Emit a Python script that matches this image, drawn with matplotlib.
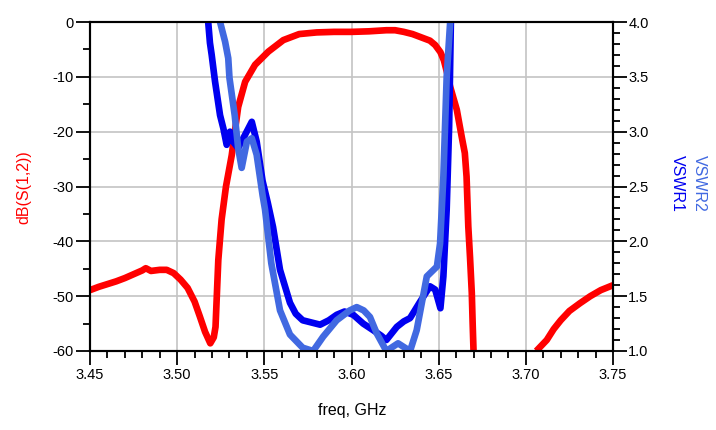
import numpy as np
import matplotlib
matplotlib.use("Agg")
import matplotlib.pyplot as plt
from matplotlib.ticker import MultipleLocator

plt.rcParams['font.family'] = ['Liberation Sans', 'DejaVu Sans']

# dB(S(1,2))
f_s12 = [3.450, 3.455, 3.460, 3.465, 3.470, 3.475, 3.480, 3.482, 3.485, 3.490,
         3.494, 3.498, 3.502, 3.506, 3.510, 3.513, 3.516, 3.519, 3.521, 3.522,
         3.5236, 3.5255, 3.528, 3.5313, 3.5335, 3.535, 3.539, 3.5447, 3.5523, 3.5609,
         3.570, 3.580, 3.590, 3.600, 3.610, 3.620, 3.625, 3.630, 3.635, 3.640,
         3.645, 3.648, 3.651, 3.653, 3.655, 3.6566, 3.6604, 3.6632, 3.665, 3.666,
         3.667, 3.668, 3.669, 3.6695, 3.670, 3.690,
         3.706, 3.709, 3.712, 3.716, 3.720, 3.725, 3.731, 3.737, 3.743, 3.750]
s12_db = [-48.9, -48.3, -47.8, -47.3, -46.7, -46.0, -45.3, -44.9, -45.4, -45.2,
          -45.2, -45.8, -47.0, -48.5, -51.0, -53.7, -56.5, -58.6, -57.5, -55.6,
          -43.4, -36.0, -30.0, -24.3, -19.0, -15.5, -10.9, -7.8, -5.4, -3.3,
          -2.2, -1.9, -1.8, -1.8, -1.7, -1.5, -1.5, -1.8, -2.2, -2.8,
          -3.4, -4.2, -5.5, -7.0, -9.5, -11.8, -16.0, -20.9, -23.9, -28.2,
          -37.3, -43.0, -49.4, -55.0, -60.0, np.nan,
          -60.0, -59.0, -58.0, -56.0, -54.4, -52.7, -51.3, -50.0, -48.9, -48.0]

# VSWR1
f_vswr1 = [3.5178, 3.5188, 3.5198, 3.5217, 3.5246, 3.5265, 3.5284, 3.5303, 3.532, 3.535,
           3.5389, 3.5428, 3.5456, 3.549, 3.552, 3.555, 3.559, 3.5647, 3.568, 3.572,
           3.577, 3.582, 3.587, 3.5915, 3.596, 3.601, 3.6067, 3.6124, 3.617, 3.620,
           3.623, 3.626, 3.630, 3.6336, 3.639, 3.645, 3.648, 3.651, 3.6527, 3.6546,
           3.656, 3.657]
vswr1 = [4.00, 3.81, 3.70, 3.46, 3.15, 3.03, 2.88, 3.00, 2.91, 2.85,
         2.97, 3.09, 2.91, 2.55, 2.35, 2.13, 1.74, 1.44, 1.34, 1.28,
         1.26, 1.24, 1.28, 1.33, 1.36, 1.33, 1.25, 1.19, 1.14, 1.10,
         1.16, 1.22, 1.27, 1.30, 1.44, 1.59, 1.56, 1.39, 1.68, 2.29,
         3.05, 4.00]

# VSWR2
f_vswr2 = [3.5246, 3.5275, 3.5293, 3.530, 3.533, 3.535, 3.537, 3.540, 3.5428, 3.5456,
           3.549, 3.5504, 3.554, 3.559, 3.5647, 3.572, 3.578, 3.5837, 3.5915, 3.599,
           3.603, 3.607, 3.6106, 3.6145, 3.620, 3.6267, 3.6336, 3.6374, 3.6432, 3.649,
           3.6508, 3.6527, 3.6546, 3.6566]
vswr2 = [4.00, 3.82, 3.67, 3.49, 3.15, 2.85, 2.67, 2.91, 2.94, 2.79,
         2.42, 2.29, 1.80, 1.37, 1.15, 1.03, 1.00, 1.13, 1.28, 1.37,
         1.40, 1.37, 1.31, 1.16, 1.00, 1.07, 1.00, 1.19, 1.68, 1.77,
         1.98, 2.59, 3.50, 4.00]

fig = plt.figure(figsize=(7.16, 4.30), dpi=100)
ax = fig.add_axes([90/716, 1-351/430, (613-90)/716, (351-22)/430])
ax2 = ax.twinx()

RED = '#FF0000'
BLUE1 = '#0000F0'
BLUE2 = '#4169E1'

LW = 4.8
ax.plot(f_s12, s12_db, color=RED, lw=LW, solid_capstyle='butt')
ax2.plot(f_vswr1, vswr1, color=BLUE1, lw=LW)
ax2.plot(f_vswr2, vswr2, color=BLUE2, lw=LW)

ax.set_xlim(3.45, 3.75)
ax.set_ylim(-60, 0)
ax2.set_ylim(1.0, 4.0)

ax.xaxis.set_major_locator(MultipleLocator(0.05))
ax.xaxis.set_minor_locator(MultipleLocator(0.01))
ax.yaxis.set_major_locator(MultipleLocator(10))
ax.yaxis.set_minor_locator(MultipleLocator(5))
ax2.yaxis.set_major_locator(MultipleLocator(0.5))
ax2.yaxis.set_minor_locator(MultipleLocator(0.1))

ax.xaxis.set_major_formatter(plt.FuncFormatter(lambda v, p: f"{v:.2f}"))
ax.yaxis.set_major_formatter(plt.FuncFormatter(lambda v, p: f"{int(round(v))}"))
ax2.yaxis.set_major_formatter(plt.FuncFormatter(lambda v, p: f"{v:.1f}"))

ax.grid(True, which='major', color='#C4C4C4', lw=1.2)
ax.set_axisbelow(True)

for a in (ax, ax2):
    for s in a.spines.values():
        s.set_linewidth(1.5)
        s.set_color('black')

ax.tick_params(axis='both', which='major', direction='out', length=10, width=1.3,
               labelsize=10.5, pad=2, top=False, right=False)
ax.tick_params(axis='both', which='minor', direction='out', length=5, width=1.3,
               top=False, right=False)
ax2.tick_params(axis='y', which='major', direction='out', length=10, width=1.3,
                labelsize=10.5, pad=1)
ax2.tick_params(axis='y', which='minor', direction='out', length=5, width=1.3)

fig.text(24/716, 1-187/430, 'dB(S(1,2))', color=RED, fontsize=11.5,
         rotation=90, ha='center', va='center')
fig.text(352/716, 1-410/430, 'freq, GHz', color='black', fontsize=11.5,
         ha='center', va='center')
fig.text(677/716, 1-183/430, 'VSWR1', color=BLUE1, fontsize=11.5,
         rotation=270, ha='center', va='center')
fig.text(699/716, 1-183/430, 'VSWR2', color=BLUE2, fontsize=11.5,
         rotation=270, ha='center', va='center')

fig.savefig('out.png', dpi=100)
